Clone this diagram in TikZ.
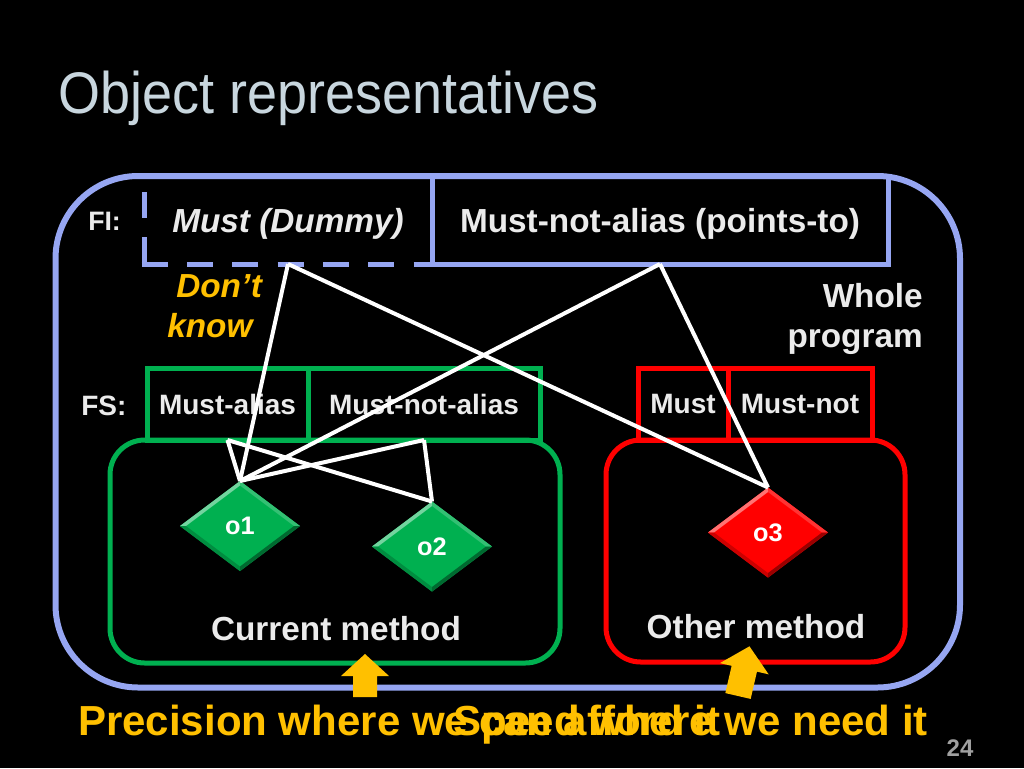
\documentclass[tikz,border=0pt]{standalone}
\usepackage{fontspec}
\setmainfont{Liberation Sans}
\newfontfamily\titlefont[FakeStretch=0.92]{Liberation Sans}
\usetikzlibrary{shapes.geometric,calc}

\definecolor{lav}{RGB}{150,166,242}
\definecolor{grn}{RGB}{0,176,80}
\definecolor{rd}{RGB}{255,0,0}
\definecolor{org}{RGB}{255,192,0}
\definecolor{txt}{RGB}{235,235,235}
\definecolor{ttl}{RGB}{200,214,222}
\definecolor{num}{RGB}{160,160,160}

\newcommand{\objbevel}[5]{%
  \fill[#2] (#1.north) -- (#1.west) -- ($(#1.west)!0.05!(#1.east)$) -- ($(#1.north)!0.05!(#1.south)$) -- cycle;
  \fill[#3] (#1.north) -- (#1.east) -- ($(#1.east)!0.05!(#1.west)$) -- ($(#1.north)!0.05!(#1.south)$) -- cycle;
  \fill[#4] (#1.south) -- (#1.west) -- ($(#1.west)!0.05!(#1.east)$) -- ($(#1.south)!0.05!(#1.north)$) -- cycle;
  \fill[#5] (#1.south) -- (#1.east) -- ($(#1.east)!0.05!(#1.west)$) -- ($(#1.south)!0.05!(#1.north)$) -- cycle;
}

\begin{document}
\begin{tikzpicture}[x=0.75pt,y=-0.75pt,
  lbl/.style={text=txt, font=\bfseries\fontsize{25}{30}\selectfont, inner sep=0pt},
  orgtxt/.style={text=org, font=\bfseries\itshape\fontsize{25}{30}\selectfont, inner sep=0pt},
  fibox/.style={draw=lav, line width=3.75pt, outer sep=0pt, inner sep=0pt, text depth=0pt, text=txt, font=\bfseries\fontsize{25}{30}\selectfont, minimum height=66pt},
  fsbox/.style={line width=3.75pt, outer sep=0pt, inner sep=0pt, text depth=0pt, text=txt, font=\bfseries\fontsize{21}{25}\selectfont, minimum height=54pt},
  methbox/.style={line width=3.75pt, outer sep=0pt, inner sep=0pt, rounded corners=26pt},
  obj/.style={diamond, inner sep=0pt, outer sep=0pt, minimum width=90pt, minimum height=67.5pt, text=white, font=\bfseries\fontsize{19}{22}\selectfont, text depth=0pt},
  link/.style={draw=white, line width=3pt, line join=round},
  dashedge/.style={draw=lav, line width=3.75pt, dash pattern=on 19.5pt off 14.5pt},
  bottomtxt/.style={text=org, font=\bfseries\fontsize{31.5}{36}\selectfont, inner sep=0pt}
]
\fill[black] (0,0) rectangle (1024,768);
\useasboundingbox (0,0) rectangle (1024,768);

% title
\node[anchor=base west, inner sep=0pt, text=ttl, font=\titlefont\fontsize{44}{50}\selectfont] (title) at (58,113) {Object representatives};

% whole program box
\draw[lav, line width=4.5pt, rounded corners=62pt] (55.5,176) rectangle (960,687.5);

% FI level
\node[lbl, font=\bfseries\fontsize{20}{24}\selectfont, anchor=base west] (fi) at (88,230) {FI:};
\node[fibox, draw=none, minimum width=216pt, font=\bfseries\itshape\fontsize{25}{30}\selectfont] (dummy) at (288,220) {Must (Dummy)};
\draw[dashedge] (144,192) -- (144,266.5);
\draw[dashedge] (141.5,264) -- (432,264);
\node[fibox, minimum width=342pt] (mnapt) at (660,220) {Must-not-alias (points-to)};

% don't know / whole program
\node[orgtxt, anchor=base west] (dk1) at (176,297) {Don’t};
\node[orgtxt, anchor=base west] (dk2) at (167,337) {know};
\node[lbl, anchor=base east] (wp1) at (923,307) {Whole};
\node[lbl, anchor=base east] (wp2) at (923,347) {program};

% FS level
\node[lbl, font=\bfseries\fontsize{21}{25}\selectfont, anchor=base west] (fs) at (81,415) {FS:};
\node[fsbox, draw=grn, minimum width=120.75pt] (ma) at (227.5,404) {Must-alias};
\node[fsbox, draw=grn, minimum width=174pt] (mna) at (424,404) {Must-not-alias};
\node[fsbox, draw=rd, minimum width=67.5pt] (rm) at (683,404) {Must};
\node[fsbox, draw=rd, minimum width=108pt] (rmn) at (800,404) {Must-not};

% methods
\node[methbox, draw=grn, minimum width=337.5pt, minimum height=167.25pt] (curm) at (335,551.5) {};
\node[methbox, draw=rd, minimum width=224.25pt, minimum height=166.5pt] (othm) at (755.5,551) {};
\node[lbl, anchor=base] (curtxt) at (336,640) {Current method};
\node[lbl, anchor=base] (othtxt) at (756,638) {Other method};

% objects
\node[obj, fill=grn] (o1) at (240,526) {o1};
\node[obj, fill=grn] (o2) at (432,546.5) {o2};
\node[obj, fill=rd] (o3) at (768,532.5) {o3};
\objbevel{o1}{grn!55!white}{grn!80!white}{grn!80!black}{grn!60!black}
\objbevel{o2}{grn!55!white}{grn!80!white}{grn!80!black}{grn!60!black}
\objbevel{o3}{rd!55!white}{rd!80!white}{rd!80!black}{rd!60!black}

% links
\draw[link] (dummy.south) -- (o1.north);
\draw[link] (dummy.south) -- (o3.north);
\draw[link] (mnapt.south) -- (o1.north);
\draw[link] (mnapt.south) -- (o3.north);
\draw[link] (ma.south) -- (o1.north);
\draw[link] (ma.south) -- (o2.north);
\draw[link] (mna.south) -- (o1.north);
\draw[link] (mna.south) -- (o2.north);

% yellow arrows
\fill[org] (353,697) -- (353,676) -- (341,676) -- (365,654) -- (389,676) -- (377,676) -- (377,697) -- cycle;
\begin{scope}[shift={(738,696)}, rotate=-13]
\fill[org] (-13,0) -- (-13,-28) -- (-25,-28) -- (0,-51) -- (25,-28) -- (13,-28) -- (13,0) -- cycle;
\end{scope}

% bottom texts
\node[bottomtxt, anchor=base west] (prec) at (78,735) {Precision where we can afford it};
\node[bottomtxt, anchor=base east] (speed) at (928,735) {Speed where we need it};

% page number
\node[anchor=base, inner sep=0pt, text=num, font=\bfseries\fontsize{18}{20}\selectfont] (pg) at (960,756) {24};
\end{tikzpicture}
\end{document}
